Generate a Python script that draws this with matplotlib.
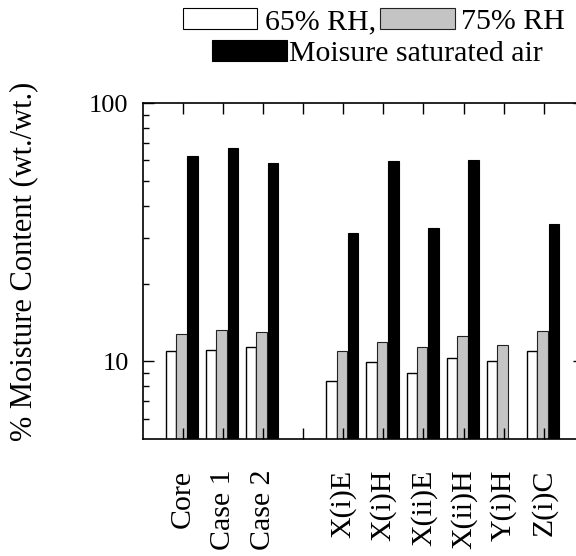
import matplotlib.pyplot as plt
from matplotlib.patches import Rectangle
from matplotlib.ticker import FixedLocator, NullFormatter, FuncFormatter
import numpy as np

plt.rcParams['font.family'] = ['Liberation Serif', 'DejaVu Serif']

# group positions (slot 4 left empty in the original)
positions = [1, 2, 3, 5, 6, 7, 8, 9, 10]
labels = ['Core', 'Case 1', 'Case 2', 'X(i)E', 'X(i)H', 'X(ii)E', 'X(ii)H', 'Y(i)H', 'Z(i)C']

rh65 = [11.0, 11.1, 11.4, 8.4, 9.9, 9.0, 10.3, 10.0, 11.0]
rh75 = [12.8, 13.2, 13.0, 11.0, 11.9, 11.4, 12.5, 11.6, 13.1]
saturated = [62.4, 67.0, 58.7, 31.4, 59.6, 32.9, 60.4, np.nan, 34.0]

W, H = 576, 556
fig = plt.figure(figsize=(W / 100, H / 100), dpi=100)

# axes box in pixels: left 142.5, right 584 (runs past the figure edge), top 103, bottom 439
ax = fig.add_axes([142.5 / W, (H - 439) / H, (584 - 142.5) / W, (439 - 103) / H])

x = np.array(positions, dtype=float)
bw = 0.26
ax.bar(x - 0.29, rh65, width=bw, color='white', edgecolor='black', linewidth=1.0)
ax.bar(x - 0.03, rh75, width=bw, color='#c4c4c4', edgecolor='#222222', linewidth=0.8)
ax.bar(x + 0.25, saturated, width=bw, color='black', edgecolor='black', linewidth=0.8)

ax.set_yscale('log')
ax.set_ylim(5, 100)
ax.set_xlim(0, 11)

ax.yaxis.set_major_locator(FixedLocator([10, 100]))
ax.yaxis.set_major_formatter(FuncFormatter(lambda v, p: f'{v:g}'))
ax.yaxis.set_minor_locator(FixedLocator([6, 7, 8, 9, 20, 30, 40, 50, 60, 70, 80, 90]))
ax.yaxis.set_minor_formatter(NullFormatter())

tick_labels = labels[:3] + [''] + labels[3:]
ax.set_xticks(range(1, 11))
ax.set_xticklabels(tick_labels, rotation=90, fontsize=21.5)
ax.xaxis.set_minor_locator(FixedLocator([]))

ax.tick_params(axis='both', which='both', direction='in', top=True, right=True, width=1.0)
ax.tick_params(axis='both', which='major', length=8)
ax.tick_params(axis='both', which='minor', length=4)
ax.tick_params(axis='x', which='major', pad=22)
ax.tick_params(axis='y', which='major', labelsize=19, pad=10)

for s in ax.spines.values():
    s.set_linewidth(1.2)

fig.text(24 / W, 1 - 261 / H, '% Moisture Content (wt./wt.)', rotation=90,
         ha='center', va='center', fontsize=22)

# legend drawn by hand to keep its two-row layout
def legend_patch(x0, y0, x1, y1, color, edge):
    fig.add_artist(Rectangle((x0 / W, 1 - y1 / H), (x1 - x0) / W, (y1 - y0) / H,
                             transform=fig.transFigure, facecolor=color, edgecolor=edge, linewidth=0.8))

legend_patch(183, 8, 257, 29, 'white', 'black')
legend_patch(380, 8, 455, 29, '#c4c4c4', '#222222')
legend_patch(212, 40, 287, 61, 'black', 'black')
fig.text(265 / W, 1 - 29 / H, '65% RH,', fontsize=21.5, va='baseline')
fig.text(461 / W, 1 - 29 / H, '75% RH', fontsize=21.5, va='baseline')
fig.text(289 / W, 1 - 61 / H, 'Moisure saturated air', fontsize=21.5, va='baseline')

fig.savefig('out.png', dpi=100)
